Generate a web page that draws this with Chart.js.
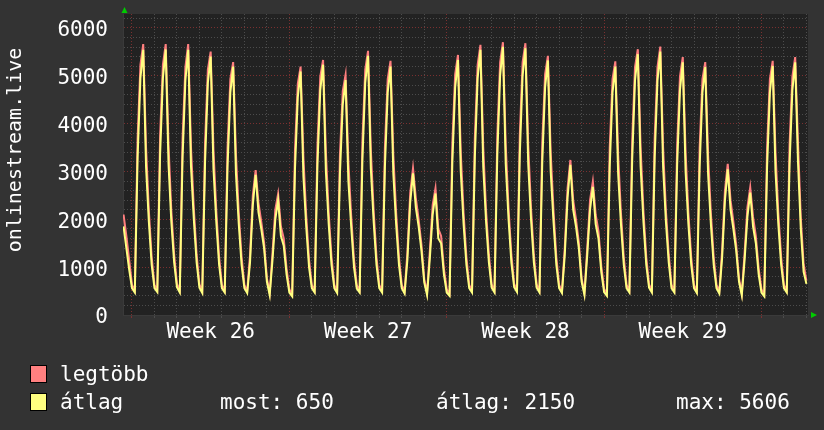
<!DOCTYPE html>
<html>
<head>
<meta charset="utf-8">
<title>onlinestream.live</title>
<script src="https://cdn.jsdelivr.net/npm/chart.js@4"></script>
<style>
  html, body { margin: 0; padding: 0; background: #333333; }
  canvas { display: block; }
</style>
</head>
<body>
<canvas id="chart" width="824" height="430"></canvas>
<script>
// samples are 3 hours apart, x is measured in days from the start of week 26
const sampleStart = -0.375;
const sampleStep = 0.125;

// átlag (average), one row per day, 8 samples each
const avgLead = [1850, 1400, 950];
const avgWeek26 = [
  560, 470, 3300, 4950, 5540, 3100, 1950, 1050,
  560, 480, 3350, 4950, 5550, 3150, 1950, 1100,
  580, 470, 3300, 4900, 5540, 3100, 2000, 1100,
  570, 460, 3200, 4850, 5400, 3050, 1950, 1050,
  560, 470, 3100, 4650, 5190, 2950, 1900, 1050,
  560, 460, 1100, 2300, 2930, 2150, 1800, 1400,
  700, 420, 1150, 2000, 2400, 1650, 1450, 850,
];
const avgWeek27 = [
  470, 390, 3050, 4550, 5090, 2900, 1850, 1000,
  560, 470, 3150, 4700, 5230, 3000, 1900, 1050,
  560, 460, 2950, 4400, 4910, 2800, 1850, 1000,
  550, 470, 3250, 4850, 5415, 3050, 1950, 1050,
  560, 470, 3100, 4650, 5190, 2950, 1900, 1050,
  560, 450, 1150, 2350, 2960, 2250, 1850, 1350,
  680, 420, 1200, 2100, 2540, 1600, 1500, 850,
];
const avgWeek28 = [
  470, 400, 3200, 4750, 5330, 3000, 1900, 1050,
  560, 470, 3300, 4950, 5540, 3100, 1950, 1100,
  570, 470, 3350, 5000, 5606, 3150, 2000, 1100,
  580, 480, 3350, 5000, 5575, 3150, 2000, 1100,
  570, 470, 3200, 4750, 5320, 3000, 1950, 1050,
  560, 460, 1250, 2450, 3140, 2200, 1850, 1400,
  700, 420, 1250, 2200, 2680, 1900, 1600, 900,
];
const avgWeek29 = [
  480, 400, 3100, 4650, 5190, 2950, 1900, 1050,
  560, 470, 3250, 4900, 5450, 3100, 1950, 1050,
  570, 470, 3300, 4900, 5505, 3100, 1950, 1100,
  560, 470, 3150, 4700, 5280, 3000, 1900, 1050,
  560, 460, 3100, 4650, 5180, 2950, 1900, 1050,
  560, 450, 1200, 2400, 3045, 2200, 1800, 1350,
  700, 410, 1150, 2050, 2560, 1850, 1500, 850,
];
const avgWeek30 = [
  470, 390, 3100, 4650, 5205, 3000, 1900, 1050,
  560, 470, 3150, 4700, 5280, 3200, 1800, 900,
  650,
];

// legtöbb (maximum)
const maxLead = [2100, 1650, 1150];
const maxWeek26 = [
  630, 510, 3700, 5230, 5660, 3500, 2180, 1210,
  630, 520, 3750, 5230, 5660, 3550, 2180, 1260,
  650, 510, 3700, 5180, 5660, 3500, 2230, 1260,
  640, 500, 3600, 5130, 5505, 3450, 2180, 1210,
  630, 510, 3500, 4930, 5285, 3350, 2130, 1210,
  630, 500, 1250, 2500, 3030, 2350, 1950, 1520,
  770, 460, 1300, 2200, 2530, 1850, 1600, 970,
];
const maxWeek27 = [
  540, 430, 3450, 4830, 5190, 3300, 2080, 1160,
  630, 510, 3550, 4980, 5330, 3400, 2130, 1210,
  630, 500, 3350, 4680, 5020, 3200, 2080, 1160,
  620, 510, 3650, 5130, 5520, 3450, 2180, 1210,
  630, 510, 3500, 4930, 5310, 3350, 2130, 1210,
  630, 490, 1300, 2550, 3070, 2450, 2000, 1470,
  750, 460, 1350, 2300, 2650, 1800, 1650, 970,
];
const maxWeek28 = [
  540, 440, 3600, 5030, 5435, 3400, 2130, 1210,
  630, 510, 3700, 5230, 5645, 3500, 2180, 1260,
  640, 510, 3750, 5280, 5700, 3550, 2230, 1260,
  650, 520, 3750, 5280, 5680, 3550, 2230, 1260,
  640, 510, 3600, 5030, 5415, 3400, 2180, 1210,
  630, 500, 1400, 2650, 3240, 2400, 2000, 1520,
  770, 460, 1400, 2400, 2790, 2100, 1750, 1020,
];
const maxWeek29 = [
  550, 440, 3500, 4930, 5300, 3350, 2130, 1210,
  630, 510, 3650, 5180, 5555, 3500, 2180, 1210,
  640, 510, 3700, 5180, 5610, 3500, 2180, 1260,
  630, 510, 3550, 4980, 5390, 3400, 2130, 1210,
  630, 500, 3500, 4930, 5285, 3350, 2130, 1210,
  630, 490, 1350, 2600, 3160, 2400, 1950, 1470,
  770, 450, 1300, 2250, 2670, 2050, 1650, 970,
];
const maxWeek30 = [
  540, 430, 3500, 4930, 5310, 3400, 2130, 1210,
  630, 510, 3550, 4980, 5390, 3600, 2030, 1060,
  720,
];

// axis labels
const weekLabels = ['Week 26', 'Week 27', 'Week 28', 'Week 29'];
const weekCenters = [3.5, 10.5, 17.5, 24.5];
const dayLines = Array.from({ length: 31 }, (_, i) => i);
const yMajorStep = 1000;

// legend text
const seriesNames = ['legtöbb', 'átlag'];
const statNow = 650;
const statAvg = 2150;
const statMax = 5606;

const FONT = '"DejaVu Sans Mono", "Liberation Mono", monospace';
const MINOR = '#4c4c4c';
const MAJOR = '#7a3030';

function toPoints(values) {
  return values.map((v, i) => ({ x: sampleStart + i * sampleStep, y: v }));
}

const avgValues = [].concat(avgLead, avgWeek26, avgWeek27, avgWeek28, avgWeek29, avgWeek30);
const maxValues = [].concat(maxLead, maxWeek26, maxWeek27, maxWeek28, maxWeek29, maxWeek30);

// backgrounds, rotated title, arrows and the legend block
const rrdDecor = {
  id: 'rrdDecor',
  beforeDraw(chart) {
    const { ctx, chartArea: a } = chart;
    ctx.save();
    ctx.fillStyle = '#333333';
    ctx.fillRect(0, 0, chart.width, chart.height);
    ctx.fillStyle = '#222222';
    ctx.fillRect(a.left, a.top, a.right - a.left, a.bottom - a.top);
    ctx.restore();
  },
  afterDraw(chart) {
    const { ctx, chartArea: a } = chart;
    ctx.save();

    // title
    ctx.fillStyle = '#ffffff';
    ctx.font = '20px ' + FONT;
    ctx.translate(20.5, 150);
    ctx.rotate(-Math.PI / 2);
    ctx.textAlign = 'center';
    ctx.fillText('onlinestream.live', 0, 0);
    ctx.setTransform(1, 0, 0, 1, 0, 0);

    // axis arrows
    ctx.fillStyle = '#00cc00';
    ctx.beginPath();
    ctx.moveTo(a.left - 1.5, a.top - 1);
    ctx.lineTo(a.left + 4.5, a.top - 1);
    ctx.lineTo(a.left + 1.5, a.top - 7);
    ctx.fill();
    ctx.beginPath();
    ctx.moveTo(a.right + 3, a.bottom - 3);
    ctx.lineTo(a.right + 3, a.bottom + 3);
    ctx.lineTo(a.right + 9, a.bottom);
    ctx.fill();

    // legend
    ctx.font = '21px ' + FONT;
    ctx.textAlign = 'left';
    ctx.lineWidth = 1;
    ctx.strokeStyle = '#000000';
    const boxes = [['#ff8080', 366], ['#ffff80', 394]];
    boxes.forEach(([c, y]) => {
      ctx.fillStyle = c;
      ctx.fillRect(31, y, 15, 16);
      ctx.strokeRect(30.5, y - 0.5, 16, 17);
    });
    ctx.fillStyle = '#ffffff';
    ctx.fillText(seriesNames[0], 60, 381);
    ctx.fillText(seriesNames[1], 60, 409);
    ctx.fillText('most: ' + statNow, 220, 409);
    ctx.fillText('átlag: ' + statAvg, 436, 409);
    ctx.fillText('max: ' + statMax, 676, 409);
    ctx.restore();
  },
};

new Chart(document.getElementById('chart'), {
  type: 'line',
  data: {
    datasets: [
      {
        label: seriesNames[1],
        data: toPoints(avgValues),
        borderColor: '#ffff80',
        borderWidth: 2,
        pointRadius: 0,
        tension: 0,
        order: 0,
      },
      {
        label: seriesNames[0],
        data: toPoints(maxValues),
        borderColor: '#ff7f7f',
        borderWidth: 2,
        pointRadius: 0,
        tension: 0,
        order: 1,
      },
    ],
  },
  options: {
    responsive: false,
    animation: false,
    events: [],
    layout: { padding: { top: 14, right: 16, left: 0, bottom: 0 } },
    plugins: { legend: { display: false }, tooltip: { enabled: false } },
    scales: {
      x: {
        type: 'linear',
        min: -0.4,
        max: 30.07,
        afterBuildTicks(scale) {
          scale.ticks = dayLines.concat(weekCenters).map(v => ({ value: v }));
        },
        afterFit(scale) {
          scale.height = 115;
          scale.paddingLeft = 0;
          scale.paddingRight = 0;
        },
        grid: {
          color: c => weekCenters.includes(c.tick.value) ? 'rgba(0,0,0,0)'
            : (c.tick.value % 7 === 0 ? MAJOR : MINOR),
          tickColor: c => weekCenters.includes(c.tick.value) ? 'rgba(0,0,0,0)'
            : (c.tick.value % 7 === 0 ? MAJOR : MINOR),
          tickLength: 3,
          lineWidth: 1,
        },
        border: { display: true, color: '#3a3a3a', dash: [1, 2] },
        ticks: {
          autoSkip: false,
          maxRotation: 0,
          padding: 2,
          color: '#ffffff',
          font: { family: FONT, size: 21 },
          callback: v => {
            const i = weekCenters.indexOf(v);
            return i >= 0 ? weekLabels[i] : '';
          },
        },
      },
      y: {
        min: 0,
        max: 6290,
        afterFit(scale) {
          scale.width = 123;
          scale.paddingTop = 0;
          scale.paddingBottom = 0;
        },
        grid: {
          color: c => c.tick.value % yMajorStep === 0 ? MAJOR : MINOR,
          drawTicks: false,
          lineWidth: 1,
        },
        border: { display: true, color: '#3a3a3a', dash: [1, 2] },
        ticks: {
          stepSize: 200,
          includeBounds: false,
          autoSkip: false,
          padding: 15,
          labelOffset: 3,
          color: '#ffffff',
          font: { family: FONT, size: 21 },
          callback: v => v % yMajorStep === 0 ? String(v) : '',
        },
      },
    },
  },
  plugins: [rrdDecor],
});
</script>
</body>
</html>
